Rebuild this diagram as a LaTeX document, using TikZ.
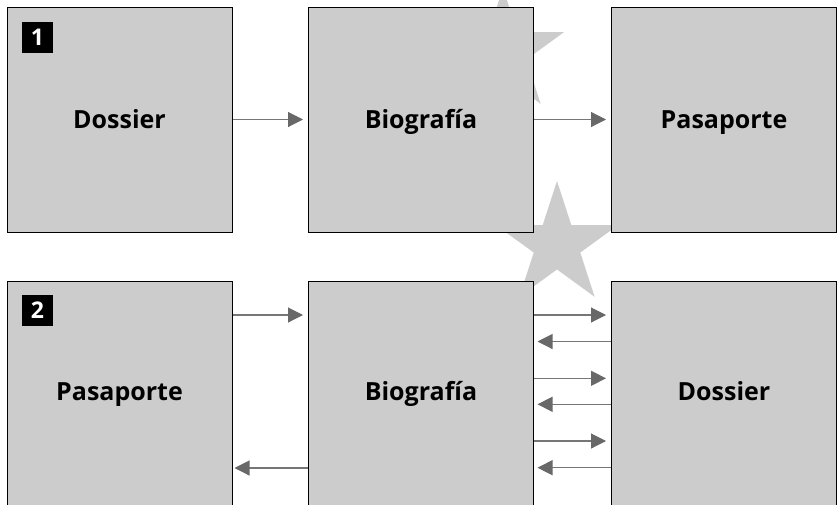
\documentclass[tikz,border=0pt]{standalone}
\usepackage{fontspec}
\setmainfont{Open Sans}
\usetikzlibrary{arrows.meta,calc}
\definecolor{boxgray}{RGB}{204,204,204}
\definecolor{arrowgray}{RGB}{104,104,104}
\definecolor{shaftgray}{RGB}{118,118,118}
\tikzset{
  panel/.style={draw=black, line width=1pt, fill=boxgray, minimum width=225pt,
    minimum height=225pt, inner sep=0pt, text height=18pt, text depth=0pt,
    font=\fontsize{25}{30}\selectfont\bfseries},
  lowpanel/.style={panel, text depth=4pt},
  numtag/.style={fill=black, text=white, minimum size=31pt, inner sep=0pt,
    text height=16.5pt, text depth=0pt, font=\fontsize{23}{26}\selectfont\bfseries},
  arr/.style={draw=shaftgray, line width=1.1pt,
    -{Triangle[length=15pt,width=15pt,color=arrowgray,fill=arrowgray]}},
  starfill/.style={fill=boxgray}
}
\newcommand{\drawstar}[3]{%
  \fill[starfill, shift={(#1,#2)}]
    (-90:#3) -- (-54:0.382*#3) -- (-18:#3) -- (18:0.382*#3) -- (54:#3) --
    (90:0.382*#3) -- (126:#3) -- (162:0.382*#3) -- (198:#3) -- (234:0.382*#3) -- cycle;}
\begin{document}
\begin{tikzpicture}[x=1pt, y=-1pt]
  \useasboundingbox[fill=white] (0,0) rectangle (838,504);

  % background stars
  \drawstar{503}{52}{64}
  \drawstar{557}{245}{64}

  % row 1
  \node[panel] (dos1) at (119.5,119.5) {Dossier};
  \node[panel] (bio1) at (421,119.5) {Biografía};
  \node[panel] (pas1) at (724,119.5) {Pasaporte};
  \node[numtag] (tag1) at (37.5,37.5) {1};

  % row 2
  \node[lowpanel] (pas2) at (119.5,393.5) {Pasaporte};
  \node[lowpanel] (bio2) at (421,393.5) {Biografía};
  \node[lowpanel] (dos2) at (724,393.5) {Dossier};
  \node[numtag] (tag2) at (37.5,310.5) {2};

  % row 1 connectors
  \draw[arr] (dos1.east) -- ($(bio1.west)+(-5,0)$);
  \draw[arr] (bio1.east) -- ($(pas1.west)+(-5,0)$);

  % row 2 connectors
  \draw[arr] ($(pas2.east)+(0,-78.5)$) -- ($(bio2.west)+(-5,-78.5)$);
  \draw[arr] ($(bio2.west)+(0,74.5)$) -- ($(pas2.east)+(2,74.5)$);

  \draw[arr] ($(bio2.east)+(0,-78.5)$) -- ($(dos2.west)+(-5,-78.5)$);
  \draw[arr] ($(dos2.west)+(0,-52)$) -- ($(bio2.east)+(3.5,-52)$);
  \draw[arr] ($(bio2.east)+(0,-15.2)$) -- ($(dos2.west)+(-5,-15.2)$);
  \draw[arr] ($(dos2.west)+(0,10.8)$) -- ($(bio2.east)+(3.5,10.8)$);
  \draw[arr] ($(bio2.east)+(0,47.5)$) -- ($(dos2.west)+(-5,47.5)$);
  \draw[arr] ($(dos2.west)+(0,74.2)$) -- ($(bio2.east)+(3.5,74.2)$);
\end{tikzpicture}
\end{document}
